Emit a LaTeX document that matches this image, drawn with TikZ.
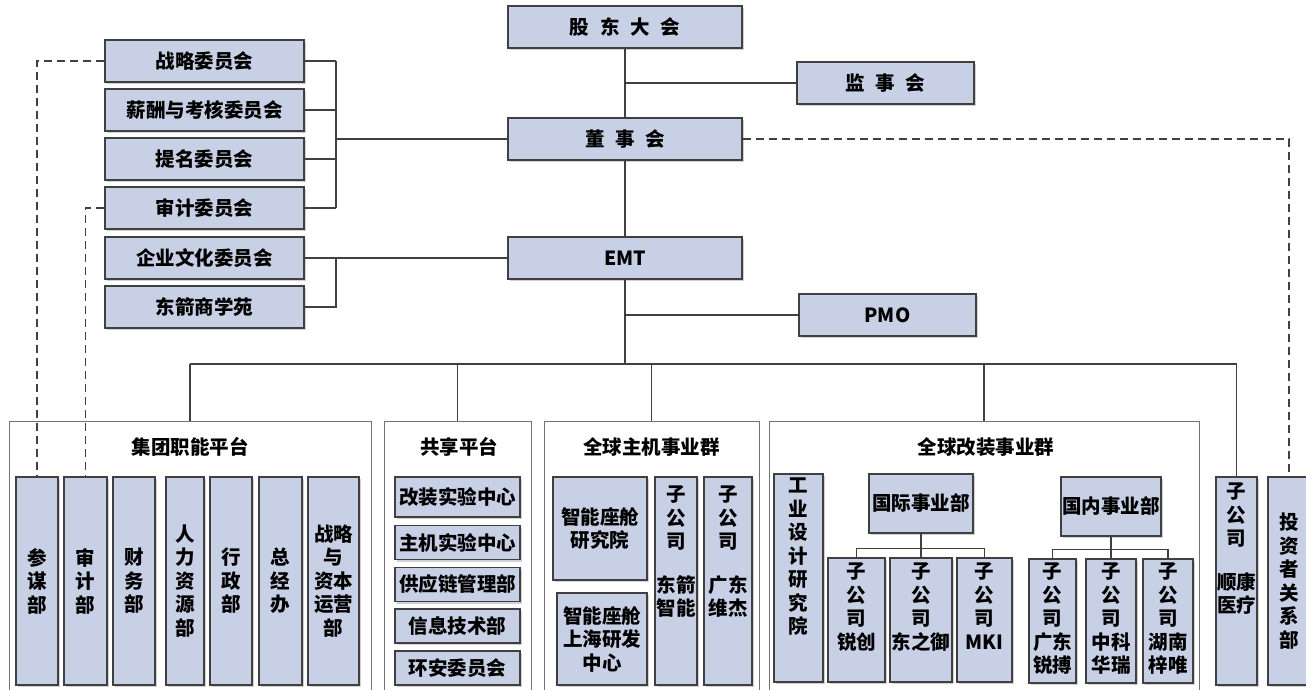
\documentclass[tikz,border=0pt]{standalone}
\usepackage{fontspec}
\setmainfont{Noto Sans CJK SC}
\usetikzlibrary{shadows}
\definecolor{boxfill}{RGB}{200,208,230}
\definecolor{lin}{RGB}{64,64,64}
\newcommand{\ws}{\hspace{.55em}}
\newcommand{\colt}[4]{\parbox[c][#2][t]{#1}{\centering\vspace*{#3}#4}}

\begin{document}
\begin{tikzpicture}[x=1pt,y=-1pt,
    font=\fontsize{19.5}{23.5}\selectfont\bfseries,
    unit/.style={draw=lin, line width=1.1pt, fill=boxfill, inner sep=0pt, align=center,
      drop shadow={shadow xshift=2pt,shadow yshift=-2pt,fill=black!18,opacity=1}},
    lead/.style={unit, minimum width=234pt, minimum height=42pt},
    side/.style={unit, minimum width=177pt, minimum height=42pt},
    cmte/.style={unit, minimum width=199pt, minimum height=42pt},
    col/.style={unit, minimum height=208pt},
    item/.style={unit, minimum width=125pt, minimum height=34pt},
    grp/.style={draw=black!55, line width=1pt, inner sep=0pt, minimum height=279pt},
    conn/.style={draw=lin, line width=1.2pt},
    ctrl/.style={draw=lin, line width=1.1pt, dash pattern=on 8pt off 5pt}]
  \useasboundingbox (0,0) rectangle (1306,689);
  \clip (0,0) rectangle (1306,689);

  \node[lead] (gddh) at (625,27) {股\ws 东\ws 大\ws 会};
  \node[side] (jsh) at (885.5,83) {监\ws 事\ws 会};
  \node[lead] (dsh) at (625,139) {董\ws 事\ws 会};
  \node[lead] (emt) at (625,258) {EMT};
  \node[side] (pmo) at (887.5,315) {PMO};

  \node[cmte] (zlwyh) at (204.5,61) {战略委员会};
  \node[cmte] (xcwyh) at (204.5,110) {薪酬与考核委员会};
  \node[cmte] (tmwyh) at (204.5,159) {提名委员会};
  \node[cmte] (sjwyh) at (204.5,208) {审计委员会};
  \node[cmte] (qywh) at (204.5,258) {企业文化委员会};
  \node[cmte] (dxy) at (204.5,307) {东箭商学苑};

  \coordinate (br1) at (336,139);
  \coordinate (br2) at (336,258);
  \coordinate (bus) at (625,364);

  \node[grp, minimum width=362pt] (jt) at (190,560.5) {};
  \node[grp, minimum width=147pt] (gx) at (457.5,560.5) {};
  \node[grp, minimum width=215pt] (zj) at (651.5,560.5) {};
  \node[grp, minimum width=430pt] (gz) at (984,560.5) {};
  \node (jtt) at (190,447) {集团职能平台};
  \node (gxt) at (459,447) {共享平台};
  \node (zjt) at (651.5,447) {全球主机事业群};
  \node (gzt) at (986,447) {全球改装事业群};

  \node[col, minimum width=42pt] (cmb) at (37,581) {参\\谋\\部};
  \node[col, minimum width=43pt] (sjb) at (85.5,581) {审\\计\\部};
  \node[col, minimum width=42pt] (cwb) at (134,581) {财\\务\\部};
  \node[col, minimum width=38pt] (rlzy) at (185,581) {人\\力\\资\\源\\部};
  \node[col, minimum width=42pt] (xzb) at (231,581) {行\\政\\部};
  \node[col, minimum width=43pt] (zjb) at (280.5,581) {总\\经\\办};
  \node[col, minimum width=51pt] (zlzb) at (333.5,581) {战略\\与\\资本\\运营\\部};

  \node[item, minimum height=40pt] (gzsy) at (457.5,497) {改装实验中心};
  \node[item] (zjsy) at (457.5,542.5) {主机实验中心};
  \node[item] (gyl) at (457.5,584.5) {供应链管理部};
  \node[item] (xxjs) at (457.5,626) {信息技术部};
  \node[item] (haw) at (457.5,668) {环安委员会};

  \node[unit, minimum width=94pt, minimum height=103pt] (zncy) at (600,528.5) {智能座舱\\研究院};
  \node[unit, minimum width=90pt, minimum height=92pt] (znsh) at (602,639) {智能座舱\\上海研发\\中心};
  \node[unit] (djzn) at (676,581) {\colt{42pt}{208pt}{9pt}{子\\公\\司\\[20pt]东箭\\智能}};
  \node[unit] (gdwj) at (728,581) {\colt{48pt}{208pt}{9pt}{子\\公\\司\\[20pt]广东\\维杰}};

  \node[unit] (gysj) at (798.5,578) {\colt{49pt}{208pt}{4pt}{工\\业\\设\\计\\研\\究\\院}};
  \node[unit, minimum width=104pt, minimum height=59pt] (gjsy) at (921,503.5) {国际事业部};
  \node[unit, minimum width=100pt, minimum height=59pt] (gnsy) at (1111,506.5) {国内事业部};
  \node[unit] (rc) at (856.5,620) {\colt{57pt}{124pt}{5pt}{子\\公\\司\\锐创}};
  \node[unit] (dzy) at (921,620) {\colt{62pt}{124pt}{5pt}{子\\公\\司\\东之御}};
  \node[unit] (mki) at (984.5,620) {\colt{55pt}{124pt}{5pt}{子\\公\\司\\MKI}};
  \node[unit] (gdrb) at (1052.5,621) {\colt{47pt}{124pt}{4pt}{子\\公\\司\\广东\\锐搏}};
  \node[unit] (zkhr) at (1111,621) {\colt{50pt}{124pt}{4pt}{子\\公\\司\\中科\\华瑞}};
  \node[unit] (hnzw) at (1168,621) {\colt{50pt}{124pt}{4pt}{子\\公\\司\\湖南\\梓唯}};

  \node[unit] (skyl) at (1236.5,581) {\colt{41pt}{208pt}{6pt}{子\\公\\司\\[20pt]顺康\\医疗}};
  \node[col, minimum width=42pt] (tzz) at (1289,581) {投\\资\\者\\关\\系\\部};

  \draw[conn] (gddh) -- (dsh) -- (emt) -- (bus);
  \draw[conn] (jsh) -- (jsh -| gddh);
  \draw[conn] (pmo) -- (pmo -| emt);
  \foreach \n in {zlwyh,xcwyh,tmwyh,sjwyh}
    \draw[conn] (\n.east) -- (\n.east -| br1);
  \draw[conn] (zlwyh.east -| br1) -- (sjwyh.east -| br1);
  \draw[conn] (br1) -- (dsh);
  \draw[conn] (qywh) -- (emt);
  \draw[conn] (dxy.east) -| (br2);

  \draw[conn] (jt.north |- bus) -- (skyl.north |- bus);
  \foreach \g in {jt,gx,zj,gz,skyl}
    \draw[conn] (\g.north |- bus) -- (\g.north);

  \draw[conn] (gjsy) -- (dzy);
  \draw[conn] (rc.north) -- ++(0,-9) -| (mki.north);
  \draw[conn] (gnsy) -- (zkhr);
  \draw[conn] (gdrb.north) -- ++(0,-9) -| (hnzw.north);

  \draw[ctrl] (zlwyh.west) -| (cmb.north);
  \draw[ctrl] (sjwyh.west) -| (sjb.north);
  \draw[ctrl] (dsh.east) -| (tzz.north);
\end{tikzpicture}
\end{document}
